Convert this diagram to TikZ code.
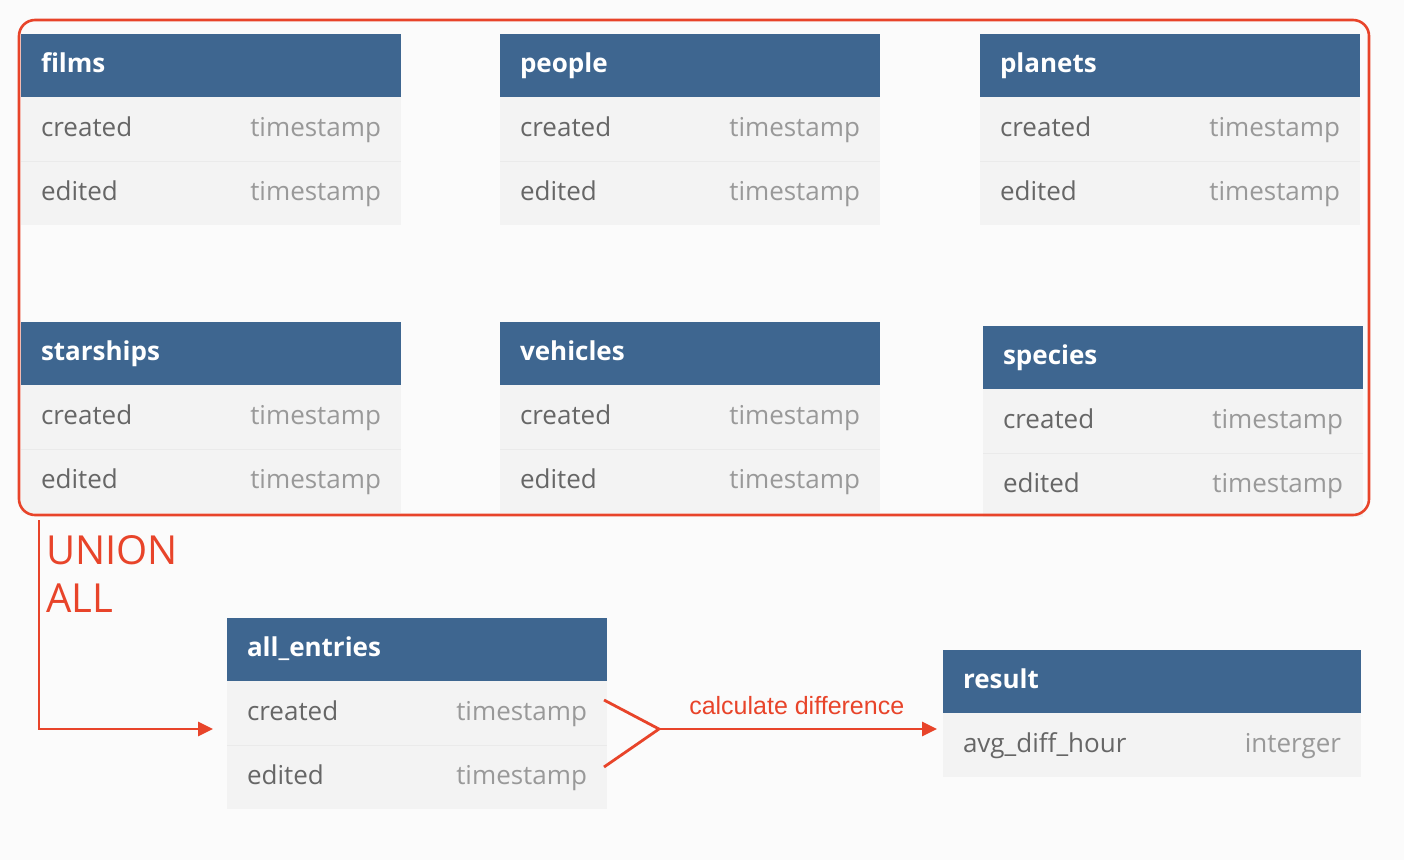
\documentclass[tikz,border=0pt]{standalone}
\usepackage{fontspec}
\setmainfont{Open Sans}
\newfontfamily\labelfont{Liberation Sans}
\usepackage{xcolor}
\usepackage{tikz}
\usetikzlibrary{positioning,arrows.meta,calc}

\definecolor{hdrblue}{HTML}{3E6690}
\definecolor{rowgray}{HTML}{F3F3F3}
\definecolor{rowline}{HTML}{EAEAEA}
\definecolor{bggray}{HTML}{FBFBFB}
\definecolor{namegray}{HTML}{666666}
\definecolor{typegray}{HTML}{999999}
\definecolor{unionred}{HTML}{E8442A}

\begin{document}
\begin{tikzpicture}[
    x=1pt, y=-1pt,
    hdr/.style={rectangle, fill=hdrblue, anchor=north west,
        text width=#1, inner xsep=20pt, inner ysep=0pt, minimum height=63pt, outer sep=0pt,
        text height=20pt, text depth=6pt, text=white, font=\fontsize{26}{30}\selectfont\bfseries},
    hdr/.default=340pt,
    field/.style={rectangle, fill=rowgray,
        text width=#1, inner xsep=20pt, inner ysep=0pt, minimum height=64pt, outer sep=0pt,
        text height=20pt, text depth=6pt, text=namegray, font=\fontsize{26}{30}\selectfont},
    field/.default=340pt,
    sep/.style={rowline, line width=0.8pt},
    flow/.style={unionred, line width=2.8pt, -{Triangle[length=15pt,width=14pt]}},
    fork/.style={unionred, line width=2.8pt}
]
\useasboundingbox[fill=bggray] (0,0) rectangle (1404,860);

% source tables
\node[hdr] (films) at (21,34) {films};
\node[field, below=0pt of films] (films-c) {created\hfill\textcolor{typegray}{timestamp}};
\node[field, below=0pt of films-c] (films-e) {edited\hfill\textcolor{typegray}{timestamp}};

\node[hdr] (people) at (500,34) {people};
\node[field, below=0pt of people] (people-c) {created\hfill\textcolor{typegray}{timestamp}};
\node[field, below=0pt of people-c] (people-e) {edited\hfill\textcolor{typegray}{timestamp}};

\node[hdr] (planets) at (980,34) {planets};
\node[field, below=0pt of planets] (planets-c) {created\hfill\textcolor{typegray}{timestamp}};
\node[field, below=0pt of planets-c] (planets-e) {edited\hfill\textcolor{typegray}{timestamp}};

\node[hdr] (starships) at (21,322) {starships};
\node[field, below=0pt of starships] (starships-c) {created\hfill\textcolor{typegray}{timestamp}};
\node[field, below=0pt of starships-c] (starships-e) {edited\hfill\textcolor{typegray}{timestamp}};

\node[hdr] (vehicles) at (500,322) {vehicles};
\node[field, below=0pt of vehicles] (vehicles-c) {created\hfill\textcolor{typegray}{timestamp}};
\node[field, below=0pt of vehicles-c] (vehicles-e) {edited\hfill\textcolor{typegray}{timestamp}};

\node[hdr] (species) at (983,326) {species};
\node[field, below=0pt of species] (species-c) {created\hfill\textcolor{typegray}{timestamp}};
\node[field, below=0pt of species-c] (species-e) {edited\hfill\textcolor{typegray}{timestamp}};

% combined and result tables
\node[hdr] (all) at (227,618) {all\_entries};
\node[field, below=0pt of all] (all-c) {created\hfill\textcolor{typegray}{timestamp}};
\node[field, below=0pt of all-c] (all-e) {edited\hfill\textcolor{typegray}{timestamp}};

\node[hdr=378pt] (result) at (943,650) {result};
\node[field=378pt, below=0pt of result] (result-f) {avg\_diff\_hour\hfill\textcolor{typegray}{interger}};

% row separators
\foreach \t in {films,people,planets,starships,vehicles,species,all}
    \draw[sep] (\t-c.south west) -- (\t-c.south east);

% union frame
\draw[unionred, line width=2.6pt, rounded corners=16pt] (19,20) rectangle (1369,515);

% union all
\coordinate (union-start) at (39,520);
\node[anchor=north west, inner sep=0pt, align=left, text=unionred,
      font=\fontsize{40}{48}\selectfont] (union) at (46,535) {UNION\\ALL};
\draw[flow, shorten >=14pt] (union-start) |- ($(all-c.west)+(0,16)$);

% calculate difference
\coordinate (merge) at (659,729);
\draw[fork] ($(all-c.east)+(-3,-13)$) -- (merge) -- ($(all-e.east)+(-3,-10)$);
\draw[flow, shorten >=6pt] (merge) -- (merge -| result-f.west)
    node[pos=0.485, above=13pt, inner sep=0pt, text=unionred, font=\labelfont\fontsize{25}{29}\selectfont] {calculate difference};
\end{tikzpicture}
\end{document}
